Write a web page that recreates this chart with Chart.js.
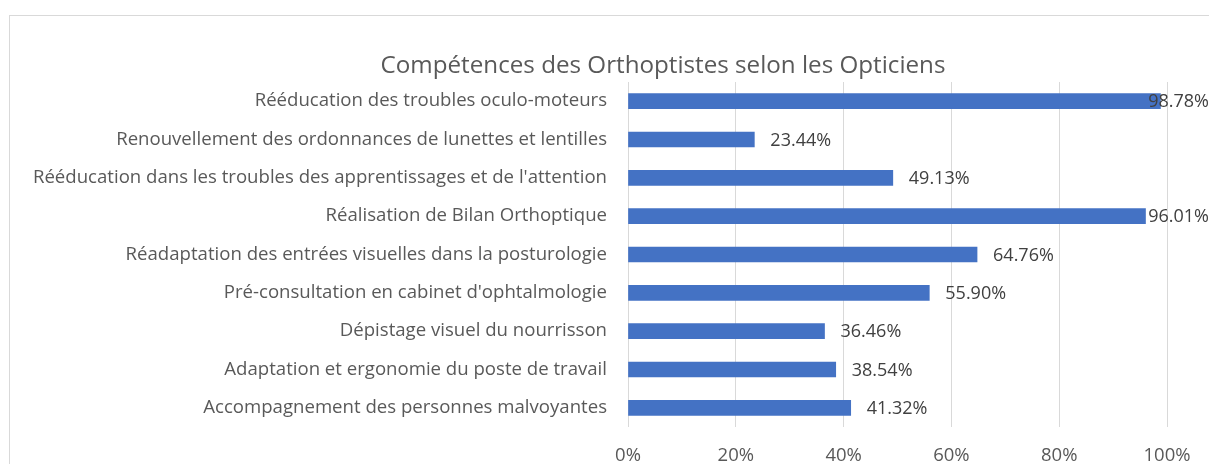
<!DOCTYPE html>
<html>
<head>
<meta charset="utf-8">
<script src="https://cdn.jsdelivr.net/npm/chart.js@4.4.1/dist/chart.umd.min.js"></script>
<style>
html,body{margin:0;padding:0;background:#fff;overflow:hidden;}
#wrap{position:relative;width:1209px;height:464px;}
#frame{position:absolute;left:9px;top:15px;width:1220px;height:480px;border:1px solid #d9d9d9;box-sizing:border-box;}
canvas{position:absolute;left:0;top:0;}
</style>
</head>
<body>
<div id="wrap">
<div id="frame"></div>
<canvas id="c" width="1209" height="464"></canvas>
</div>
<script>
const titleText = "Compétences des Orthoptistes selon les Opticiens";
const categories = [
  "Rééducation des troubles oculo-moteurs",
  "Renouvellement des ordonnances de lunettes et lentilles",
  "Rééducation dans les troubles des apprentissages et de l'attention",
  "Réalisation de Bilan Orthoptique",
  "Réadaptation des entrées visuelles dans la posturologie",
  "Pré-consultation en cabinet d'ophtalmologie",
  "Dépistage visuel du nourrisson",
  "Adaptation et ergonomie du poste de travail",
  "Accompagnement des personnes malvoyantes"
];
const values = [98.78, 23.44, 49.13, 96.01, 64.76, 55.90, 36.46, 38.54, 41.32];
const tickValues = [0, 20, 40, 60, 80, 100];

const FONT = "'Open Sans'";

const titlePlugin = {
  id: 'customTitle',
  afterDraw(chart) {
    const ctx = chart.ctx;
    ctx.save();
    ctx.font = "24.2px " + FONT;
    ctx.fillStyle = "#595959";
    ctx.textAlign = "center";
    ctx.textBaseline = "middle";
    ctx.fillText(titleText, 663, 66);
    ctx.restore();
  }
};

const labelPlugin = {
  id: 'barLabels',
  afterDatasetsDraw(chart) {
    const ctx = chart.ctx;
    const meta = chart.getDatasetMeta(0);
    ctx.save();
    ctx.font = "18px " + FONT;
    ctx.fillStyle = "#404040";
    ctx.textAlign = "left";
    ctx.textBaseline = "middle";
    meta.data.forEach((bar, i) => {
      const txt = values[i].toFixed(2) + "%";
      const w = ctx.measureText(txt).width;
      let x = bar.x + 16;
      if (x + w > chart.width) x = chart.width - w;
      ctx.fillText(txt, x, bar.y + 1);
    });
    ctx.restore();
  }
};

new Chart(document.getElementById('c'), {
  type: 'bar',
  data: {
    labels: categories,
    datasets: [{
      data: values,
      backgroundColor: '#4472C4',
      borderWidth: 0,
      barThickness: 15
    }]
  },
  options: {
    indexAxis: 'y',
    responsive: false,
    animation: false,
    events: [],
    layout: { padding: { top: 82, right: 42, bottom: 0, left: 0 } },
    plugins: { legend: { display: false }, title: { display: false }, tooltip: { enabled: false } },
    scales: {
      x: {
        min: 0, max: 100,
        afterBuildTicks(scale) { scale.ticks = tickValues.map(v => ({ value: v })); },
        ticks: {
          callback: v => v + '%',
          color: '#595959',
          font: { family: "Open Sans", size: 18.5 },
          padding: 18,
          maxRotation: 0
        },
        grid: { color: '#d9d9d9', lineWidth: 1, drawTicks: false },
        border: { display: false },
        afterFit(scale) { scale.height = 37; }
      },
      y: {
        ticks: {
          color: '#595959',
          font: { family: "Open Sans", size: 18.6 },
          padding: 21,
          autoSkip: false
        },
        grid: { display: false, drawTicks: false },
        border: { display: false },
        afterFit(scale) { scale.width = 628; }
      }
    }
  },
  plugins: [titlePlugin, labelPlugin]
});
</script>
</body>
</html>
